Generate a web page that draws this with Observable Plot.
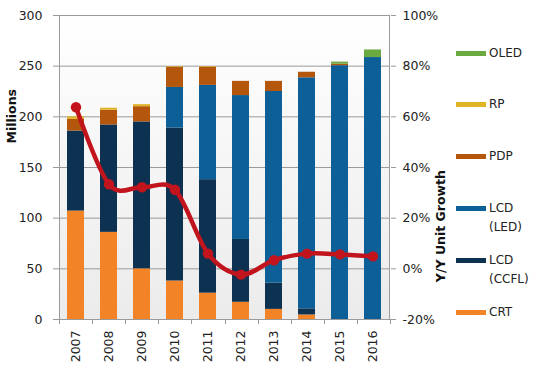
<!DOCTYPE html>
<html>
<head>
<meta charset="utf-8">
<script src="https://cdn.jsdelivr.net/npm/d3@7"></script>
<script src="https://cdn.jsdelivr.net/npm/@observablehq/plot@0.6"></script>
<style>
  html, body { margin: 0; padding: 0; background: #fff; }
  #wrap { position: relative; width: 549px; height: 371px; font-family: "DejaVu Sans", Verdana, sans-serif; }
  #legend { position: absolute; left: 456px; top: 43.5px; }
  .item { display: flex; align-items: flex-start; height: 51.9px; }
  .sw { width: 30px; height: 5px; margin-top: 7px; margin-right: 3px; }
  .lab { font-size: 12px; line-height: 19px; color: #222; }
</style>
</head>
<body>
<div id="wrap"></div>
<script>
// ---- data ----
const years = ["2007","2008","2009","2010","2011","2012","2013","2014","2015","2016"];
const series = ["CRT", "LCD (CCFL)", "LCD (LED)", "PDP", "RP", "OLED"];
const crt  = [107, 86, 50, 38, 26, 17, 10, 4.5, 0, 0];
const ccfl = [79, 106, 145, 151, 112, 62, 26, 6, 0, 0];
const led  = [0, 0, 0, 40, 93, 142, 189, 228, 250.5, 258.5];
const pdp  = [11.5, 14.5, 15, 20, 18, 14, 10, 5.5, 1.5, 0];
const rp   = [2.5, 2, 2, 0.5, 0.5, 0, 0, 0, 0, 0];
const oled = [0, 0, 0, 0, 0, 0, 0, 0, 2, 7.5];
const growth = [63.8, 33.4, 32.2, 31.2, 6, -2.3, 3.4, 6, 5.7, 4.9]; // Y/Y unit growth, %
const leftTicks = [0, 50, 100, 150, 200, 250, 300];
const rightTicks = [-20, 0, 20, 40, 60, 80, 100];
const colors = ["#f28327", "#0c3151", "#0d5f97", "#b5560d", "#dfb425", "#6aaa40"];
const legendOrder = ["OLED", "RP", "PDP", "LCD (LED)", "LCD (CCFL)", "CRT"];

// ---- derived tables ----
const values = [crt, ccfl, led, pdp, rp, oled];
const rows = years.flatMap((y, i) => series.map((s, j) => ({year: y, series: s, value: values[j][i]})));
// map growth (%) onto the left axis units: -20% -> 0, 100% -> 300
const toLeft = g => (g + 20) * 300 / 120;
const gRows = years.map((y, i) => ({year: y, g: growth[i]}));

function background(index, scales, vals, dims) {
  const g = d3.create("svg:g");
  const grad = g.append("defs").append("linearGradient")
    .attr("id", "bgGrad").attr("x1", 0).attr("y1", 0).attr("x2", 0).attr("y2", 1);
  grad.append("stop").attr("offset", "0%").attr("stop-color", "#ffffff");
  grad.append("stop").attr("offset", "100%").attr("stop-color", "#ebebeb");
  g.append("rect")
    .attr("x", dims.marginLeft).attr("y", dims.marginTop)
    .attr("width", dims.width - dims.marginLeft - dims.marginRight)
    .attr("height", dims.height - dims.marginTop - dims.marginBottom)
    .attr("fill", "url(#bgGrad)");
  return g.node();
}

function frameLines(index, scales, vals, dims) {
  const g = d3.create("svg:g").attr("stroke", "#9a9a9a").attr("stroke-width", 1);
  const x0 = dims.marginLeft, x1 = dims.width - dims.marginRight;
  const y0 = dims.marginTop, y1 = dims.height - dims.marginBottom;
  g.append("line").attr("x1", x0 + 0.5).attr("x2", x0 + 0.5).attr("y1", y0).attr("y2", y1);
  g.append("line").attr("x1", x1 - 0.5).attr("x2", x1 - 0.5).attr("y1", y0).attr("y2", y1);
  const n = years.length;
  for (let k = 0; k <= n; k++) {
    const xx = Math.round(x0 + k * (x1 - x0) / n) + 0.5;
    g.append("line").attr("x1", xx).attr("x2", xx).attr("y1", y1).attr("y2", y1 + 5);
  }
  return g.node();
}

const chart = Plot.plot({
  width: 549,
  height: 371,
  marginLeft: 59,
  marginRight: 159,
  marginTop: 15,
  marginBottom: 52,
  style: {fontFamily: "DejaVu Sans, Verdana, sans-serif", fontSize: "12px", color: "#222", background: "transparent"},
  x: {domain: years, paddingInner: 0.47, paddingOuter: 0.235, label: null},
  y: {domain: [0, 300], label: null},
  color: {domain: series, range: colors},
  marks: [
    background,
    Plot.gridY(leftTicks, {stroke: "#9a9a9a", strokeOpacity: 1}),
    Plot.barY(rows, {x: "year", y: "value", fill: "series"}),
    frameLines,
    Plot.line(gRows, {x: "year", y: d => toLeft(d.g), curve: "cardinal", stroke: "#c1141c", strokeWidth: 4.5}),
    Plot.dot(gRows, {x: "year", y: d => toLeft(d.g), r: 5.2, fill: "#c1141c", stroke: "none"}),
    Plot.axisY(leftTicks, {anchor: "left", tickSize: 6, tickPadding: 11, stroke: "#9a9a9a", label: null, fontSize: 12.5}),
    Plot.axisY(rightTicks.map(toLeft), {anchor: "right", tickSize: 5, tickPadding: 7, stroke: "#9a9a9a", label: null,
      tickFormat: d => `${Math.round(d * 120 / 300 - 20)}%`, fontSize: 12.5}),
    Plot.axisX({tickSize: 0, tickPadding: 11, tickRotate: -90, label: null, fontSize: 12.5}),
    Plot.text(["Millions"], {frameAnchor: "left", rotate: -90, dx: -47.5, dy: -24, fontWeight: "bold", fontSize: 12.5, fill: "#111"}),
    Plot.text(["Y/Y Unit Growth"], {frameAnchor: "right", rotate: -90, dx: 50, dy: 2.5, fontWeight: "bold", fontSize: 12.5, fill: "#111"})
  ]
});

const wrap = document.getElementById("wrap");
wrap.appendChild(chart);

// legend (HTML)
const legend = document.createElement("div");
legend.id = "legend";
for (const s of legendOrder) {
  const item = document.createElement("div");
  item.className = "item";
  const sw = document.createElement("div");
  sw.className = "sw";
  sw.style.background = colors[series.indexOf(s)];
  const lab = document.createElement("div");
  lab.className = "lab";
  const parts = s.match(/^(\S+)\s+(\(.*\))$/);
  lab.innerHTML = parts ? `${parts[1]}<br>${parts[2]}` : s;
  item.appendChild(sw);
  item.appendChild(lab);
  legend.appendChild(item);
}
wrap.appendChild(legend);
</script>
</body>
</html>
